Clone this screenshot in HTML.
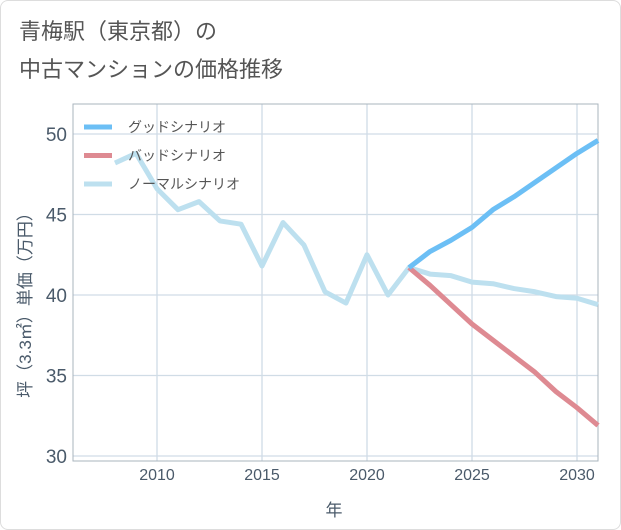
<!DOCTYPE html>
<html><head><meta charset="utf-8"><style>
body{margin:0;background:#fff;font-family:"Liberation Sans","Noto Sans CJK JP",sans-serif}
#wrap{position:relative;width:619px;height:528px;border:1px solid #ddd;border-radius:8px;overflow:hidden}
.t{position:absolute;left:18px;font-size:22px;color:#555}
</style></head><body>
<div id="wrap">
<div class="t" style="top:13px">青梅駅（東京都）の</div>
<div class="t" style="top:51px">中古マンションの価格推移</div>
<svg id="svg" width="621" height="530" style="position:absolute;left:0;top:0"></svg>
</div>
<script>
const years=[2008,2009,2010,2011,2012,2013,2014,2015,2016,2017,2018,2019,2020,2021,2022,2023,2024,2025,2026,2027,2028,2029,2030,2031];
const normal=[48.2,48.8,46.6,45.3,45.8,44.6,44.4,41.8,44.5,43.1,40.2,39.5,42.5,40.0,41.7,41.3,41.2,40.8,40.7,40.4,40.2,39.9,39.8,39.4];
const fYears=[2022,2023,2024,2025,2026,2027,2028,2029,2030,2031];
const good=[41.7,42.7,43.4,44.2,45.3,46.1,47.0,47.9,48.8,49.6];
const bad=[41.7,40.6,39.4,38.2,37.2,36.2,35.2,34.0,33.0,31.9];
const xTicks=[2010,2015,2020,2025,2030];
const yTicks=[30,35,40,45,50];
const L=72,R=597,T=103,B=460;
const x=v=>156+(v-2010)*21;
const y=v=>455-(v-30)*16.1;
const s=document.getElementById('svg');const NS='http://www.w3.org/2000/svg';
function mk(tag,a,p){const e=document.createElementNS(NS,tag);for(const k in a)e.setAttribute(k,a[k]);(p||s).appendChild(e);return e;}
xTicks.forEach(t=>{const l=mk('line',{x1:x(t),x2:x(t),y1:T,y2:B,stroke:'#d0dce6','stroke-width':1.3});


const tx=mk('text',{x:x(t),y:479,'text-anchor':'middle','font-size':16,fill:'#4a5a6a'});tx.textContent=t;

});
yTicks.forEach(t=>{const l=mk('line',{x1:L,x2:R,y1:y(t),y2:y(t),stroke:'#d0dce6','stroke-width':1.3});


const tx=mk('text',{x:66,y:y(t)+7,'text-anchor':'end','font-size':19,fill:'#4a5a6a'});tx.textContent=t;

});
const fr=mk('rect',{x:L,y:T,width:R-L,height:B-T,fill:'none',stroke:'#aab4be','stroke-width':1});


function line(xs,vs,c,n){const p=mk('polyline',{points:xs.map((v,i)=>x(v)+','+y(vs[i])).join(' '),fill:'none',stroke:c,'stroke-width':5,'stroke-linejoin':'round'});

}
line(years,normal,'#bde0ef','normal-scenario-line');
line(fYears,bad,'#de8a92','bad-scenario-line');
line(fYears,good,'#6cbff5','good-scenario-line');
const leg=[['グッドシナリオ','#6cbff5'],['バッドシナリオ','#de8a92'],['ノーマルシナリオ','#bde0ef']];
leg.forEach((g,i)=>{const yy=126+i*28.5;const l=mk('line',{x1:83,x2:111,y1:yy,y2:yy,stroke:g[1],'stroke-width':5});


const t=mk('text',{x:127,y:yy+5,'font-size':14,fill:'#555'});t.textContent=g[0];

});
const yt=mk('text',{x:0,y:0,'font-size':17,fill:'#4a5a6a','text-anchor':'middle',transform:'translate(30,300) rotate(-90)'});yt.textContent='坪（3.3㎡）単価（万円）';


const xt=mk('text',{x:333,y:515,'font-size':17,fill:'#4a5a6a','text-anchor':'middle'});xt.textContent='年';


</script>
</body></html>
